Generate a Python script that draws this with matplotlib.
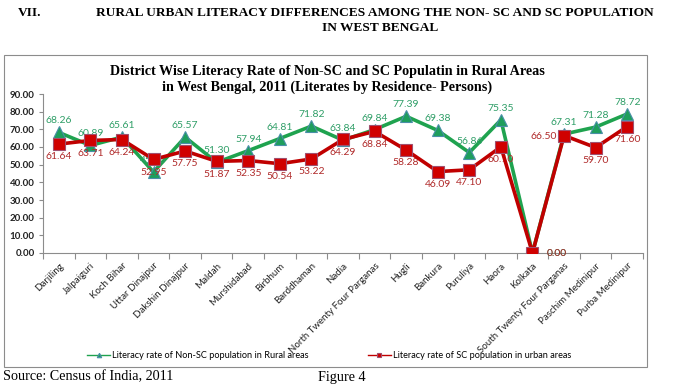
import matplotlib
matplotlib.use('Agg')
import matplotlib.pyplot as plt
from matplotlib.patches import Rectangle

# distritos y tasas de alfabetizacion (2011)
distritos = ['Darjiling', 'Jalpaiguri', 'Koch Bihar', 'Uttar Dinajpur',
             'Dakshin Dinajpur', 'Maldah', 'Murshidabad', 'Birbhum',
             'Barddhaman', 'Nadia', 'North Twenty Four Parganas', 'Hugli',
             'Bankura', 'Puruliya', 'Haora', 'Kolkata',
             'South Twenty Four Parganas', 'Paschim Medinipur',
             'Purba Medinipur']
no_sc = [68.26, 60.89, 65.61, 45.86, 65.57, 51.30, 57.94, 64.81, 71.82,
         63.84, 69.84, 77.39, 69.38, 56.86, 75.35, 0.00, 67.31, 71.28, 78.72]
sc = [61.64, 63.71, 64.24, 52.95, 57.75, 51.87, 52.35, 50.54, 53.22,
      64.29, 68.84, 58.28, 46.09, 47.10, 60.10, 0.00, 66.50, 59.70, 71.60]
yticks = [0, 10, 20, 30, 40, 50, 60, 70, 80, 90]

verde = '#1fa34f'
rojo = '#c00000'
serif = 'Liberation Serif'
sans = 'Lato'

fig = plt.figure(figsize=(6.88, 3.88), dpi=100)

# encabezado del documento
fig.text(18/688, 1-13/388, 'VII.', family=serif, weight='bold', fontsize=9.6,
         va='center', ha='left')
fig.text(375/688, 1-13/388,
         'RURAL URBAN LITERACY DIFFERENCES AMONG THE NON- SC AND SC POPULATION',
         family=serif, weight='bold', fontsize=9.6, va='center', ha='center')
fig.text(380/688, 1-28/388, 'IN WEST BENGAL', family=serif, weight='bold',
         fontsize=9.6, va='center', ha='center')

# marco del grafico
fig.patches.append(Rectangle((4/688, 1-367/388), 643/688, 312/388,
                             transform=fig.transFigure, fill=False,
                             edgecolor='#8c8c8c', linewidth=0.8))

fig.text(327/688, 1-72/388,
         'District Wise Literacy Rate of Non-SC and SC Populatin in Rural Areas',
         family=serif, weight='bold', fontsize=10.2, ha='center', va='center')
fig.text(327/688, 1-87/388,
         'in West Bengal, 2011 (Literates by Residence- Persons)',
         family=serif, weight='bold', fontsize=10.2, ha='center', va='center')

ax = fig.add_axes([43/688, 1-253/388, 600/688, 159/388])
x = list(range(len(distritos)))
ax.plot(x, no_sc, color=verde, linewidth=2.6, marker='^', markersize=8,
        markerfacecolor='#1e9e5c', markeredgecolor='#4a8fa8',
        markeredgewidth=0.8, label='Literacy rate of Non-SC population in Rural areas', zorder=3)
ax.plot(x, sc, color=rojo, linewidth=2.6, marker='s', markersize=8,
        markerfacecolor='#d00000', markeredgecolor='#a0506e',
        markeredgewidth=0.8, label='Literacy rate of SC population in urban areas', zorder=4)

for i in range(len(distritos)):
    if distritos[i] == 'Kolkata':
        ax.annotate('%.2f' % no_sc[i], (i, no_sc[i]), xytext=(10, 0),
                    textcoords='offset points', color='#2f9e67', fontsize=7.5,
                    family=sans, va='center', ha='left')
        ax.annotate('%.2f' % sc[i], (i, sc[i]), xytext=(10, 0),
                    textcoords='offset points', color='#b02a2a', fontsize=7.5,
                    family=sans, va='center', ha='left')
        continue
    ax.annotate('%.2f' % no_sc[i], (i, no_sc[i]), xytext=(0, 5),
                textcoords='offset points', color='#2f9e67', fontsize=7.5,
                family=sans, va='bottom', ha='center')
    if distritos[i] == 'South Twenty Four Parganas':
        ax.annotate('%.2f' % sc[i], (i, sc[i]), xytext=(-5, -1),
                    textcoords='offset points', color='#b02a2a', fontsize=7.5,
                    family=sans, va='center', ha='right')
    else:
        ax.annotate('%.2f' % sc[i], (i, sc[i]), xytext=(0, -6),
                    textcoords='offset points', color='#b02a2a', fontsize=7.5,
                    family=sans, va='top', ha='center')

ax.set_xlim(-0.5, len(distritos) - 0.5)
ax.set_ylim(0, 90)
ax.set_yticks(yticks)
ax.set_yticklabels(['%.2f' % v for v in yticks], family=sans, weight='bold',
                   fontsize=7, color='#222222')
ax.set_xticks([i - 0.5 for i in range(len(distritos) + 1)])
ax.set_xticklabels([])
ax.set_xticks(x, minor=True)
ax.set_xticklabels(distritos, minor=True, rotation=45, ha='right',
                   rotation_mode='anchor', family=sans, fontsize=7,
                   color='#222222')
ax.tick_params(axis='x', which='minor', length=0, pad=6)
ax.tick_params(axis='x', which='major', length=4, color='#8c8c8c')
ax.tick_params(axis='y', length=3, color='#8c8c8c', pad=3)
for lado in ['top', 'right']:
    ax.spines[lado].set_visible(False)
for lado in ['left', 'bottom']:
    ax.spines[lado].set_color('#8c8c8c')
    ax.spines[lado].set_linewidth(0.8)
ax.patch.set_alpha(0)

h, l = ax.get_legend_handles_labels()
leg = fig.legend(h, l, loc='center', bbox_to_anchor=(329/688, 1-356/388),
                 ncol=2, frameon=False,
                 prop={'family': sans, 'size': 6.6}, handlelength=2.5,
                 handletextpad=0.2, columnspacing=6.5, markerscale=0.4)
for linea in leg.get_lines():
    linea.set_linewidth(1.0)

fig.text(3/688, 1-377/388, 'Source: Census of India, 2011', family=serif,
         fontsize=10.2, va='center', ha='left')
fig.text(318/688, 1-377/388, 'Figure 4', family=serif, fontsize=10.2,
         va='center', ha='left')

fig.savefig('out.png', dpi=100)
